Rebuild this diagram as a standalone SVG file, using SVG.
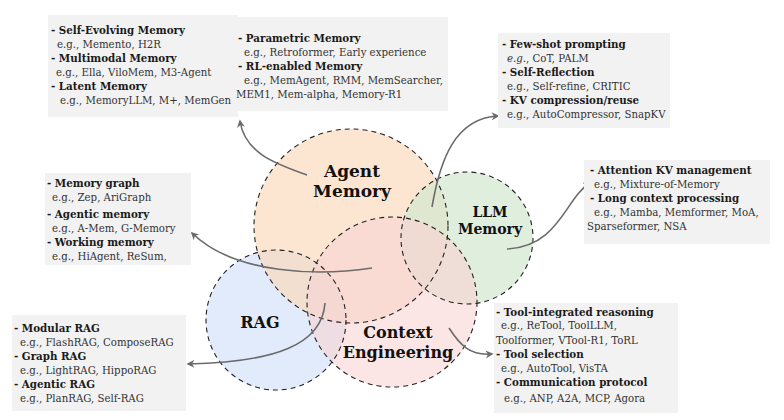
<svg xmlns="http://www.w3.org/2000/svg" width="784" height="420" viewBox="0 0 784 420">
<style>
.bx{fill:#f2f2f2}
.h{font-family:"DejaVu Serif","Liberation Serif",serif;font-weight:bold;font-size:10.3px;fill:#1a1a1a}
.t{font-family:"DejaVu Serif","Liberation Serif",serif;font-size:10.2px;fill:#333}
.lbl{font-family:"DejaVu Serif","Liberation Serif",serif;font-weight:bold;fill:#111;text-anchor:middle}
.c{stroke:#222;stroke-width:1.1;stroke-dasharray:5 4;fill:none}
.a{fill:none;stroke:#6b6b6b;stroke-width:1.6;marker-end:url(#ah)}
</style>
<defs>
<marker id="ah" viewBox="0 0 10 10" refX="8" refY="5" markerWidth="5" markerHeight="5" orient="auto-start-reverse">
<path d="M0,0 L10,5 L0,10 L3,5 z" fill="#6b6b6b"/>
</marker>
</defs>
<rect width="784" height="420" fill="#fff"/>

<g id="circles">
<circle cx="276" cy="320" r="70" fill="#dae6fb" fill-opacity="0.8"/>
<circle cx="351" cy="226" r="97" fill="#fcd8b8" fill-opacity="0.65"/>
<circle cx="467" cy="238" r="66" fill="#d3e7d0" fill-opacity="0.7"/>
<circle cx="392" cy="302" r="85" fill="#f8d3d3" fill-opacity="0.6"/>
<circle class="c" cx="276" cy="320" r="70"/>
<circle class="c" cx="351" cy="226" r="97"/>
<circle class="c" cx="467" cy="238" r="66"/>
<circle class="c" cx="392" cy="302" r="85"/>
</g>

<g id="agent-memory"><text class="lbl" font-size="17" x="352" y="177">Agent</text><text class="lbl" font-size="17" x="352" y="197">Memory</text></g>
<g id="llm-memory"><text class="lbl" font-size="14" x="490" y="217">LLM</text><text class="lbl" font-size="14" x="490" y="234">Memory</text></g>
<g id="rag"><text class="lbl" font-size="16" x="260" y="328">RAG</text></g>
<g id="context-engineering"><text class="lbl" font-size="16" x="398" y="338">Context</text><text class="lbl" font-size="16" x="398" y="358">Engineering</text></g>

<g id="connectors">
<path class="a" d="M307,175 C280,165 245,155 240,121"/>
<path class="a" d="M432,207 C440,160 455,118 498,116"/>
<path class="a" d="M507,249 C560,246 565,198 590,183"/>
<path class="a" d="M372,268 C320,276 235,275 192,233"/>
<path class="a" d="M325,303 C322,345 275,362 188,364"/>
<path class="a" d="M449,328 C460,345 470,356 492,354"/>
</g>

<g id="box-agent-1">
<rect class="bx" x="48" y="15" width="190" height="102"/>
<text class="h" x="51" y="34">- Self-Evolving Memory</text>
<text class="t" x="57" y="48">e.g., Memento, H2R</text>
<text class="h" x="51" y="62">- Multimodal Memory</text>
<text class="t" x="56" y="76">e.g., Ella, ViloMem, M3-Agent</text>
<text class="h" x="51" y="90">- Latent Memory</text>
<text class="t" x="60" y="104">e.g., MemoryLLM, M+, MemGen</text>
</g>

<g id="box-agent-2">
<rect class="bx" x="238" y="17" width="210" height="94"/>
<text class="h" x="238" y="42">- Parametric Memory</text>
<text class="t" x="244" y="56">e.g., Retroformer, Early experience</text>
<text class="h" x="238" y="70">- RL-enabled Memory</text>
<text class="t" x="244" y="84">e.g., MemAgent, RMM, MemSearcher,</text>
<text class="t" x="236" y="98">MEM1, Mem-alpha, Memory-R1</text>
</g>

<g id="box-context-1">
<rect class="bx" x="498" y="33" width="172" height="95"/>
<text class="h" x="502" y="48">- Few-shot prompting</text>
<text class="t" x="507" y="62"><tspan font-style="italic">e.g.</tspan>, CoT, PALM</text>
<text class="h" x="502" y="76">- Self-Reflection</text>
<text class="t" x="507" y="90">e.g., Self-refine, CRITIC</text>
<text class="h" x="502" y="104">- KV compression/reuse</text>
<text class="t" x="507" y="118">e.g., AutoCompressor, SnapKV</text>
</g>

<g id="box-llm">
<rect class="bx" x="584" y="160" width="186" height="84"/>
<text class="h" x="590" y="174">- Attention KV management</text>
<text class="t" x="594" y="188">e.g., Mixture-of-Memory</text>
<text class="h" x="590" y="202">- Long context processing</text>
<text class="t" x="594" y="216">e.g., Mamba, Memformer, MoA,</text>
<text class="t" x="587" y="230">Sparseformer, NSA</text>
</g>

<g id="box-context-2">
<rect class="bx" x="45" y="173" width="146" height="92"/>
<text class="h" x="47" y="187">- Memory graph</text>
<text class="t" x="52" y="201">e.g., Zep, AriGraph</text>
<text class="h" x="47" y="218">- Agentic memory</text>
<text class="t" x="52" y="232">e.g., A-Mem, G-Memory</text>
<text class="h" x="47" y="246">- Working memory</text>
<text class="t" x="52" y="260">e.g., HiAgent, ReSum,</text>
</g>

<g id="box-rag">
<rect class="bx" x="12" y="315" width="174" height="96"/>
<text class="h" x="14" y="332">- Modular RAG</text>
<text class="t" x="20" y="346">e.g., FlashRAG, ComposeRAG</text>
<text class="h" x="14" y="360">- Graph RAG</text>
<text class="t" x="20" y="374">e.g., LightRAG, HippoRAG</text>
<text class="h" x="14" y="388">- Agentic RAG</text>
<text class="t" x="20" y="402">e.g., PlanRAG, Self-RAG</text>
</g>

<g id="box-context-3">
<rect class="bx" x="494" y="303" width="184" height="110"/>
<text class="h" x="496" y="316">- Tool-integrated reasoning</text>
<text class="t" x="501" y="329">e.g., ReTool, ToolLLM,</text>
<text class="t" x="496" y="344">Toolformer, VTool-R1, ToRL</text>
<text class="h" x="496" y="358">- Tool selection</text>
<text class="t" x="501" y="372">e.g., AutoTool, VisTA</text>
<text class="h" x="496" y="386">- Communication protocol</text>
<text class="t" x="504" y="402">e.g., ANP, A2A, MCP, Agora</text>
</g>
</svg>
